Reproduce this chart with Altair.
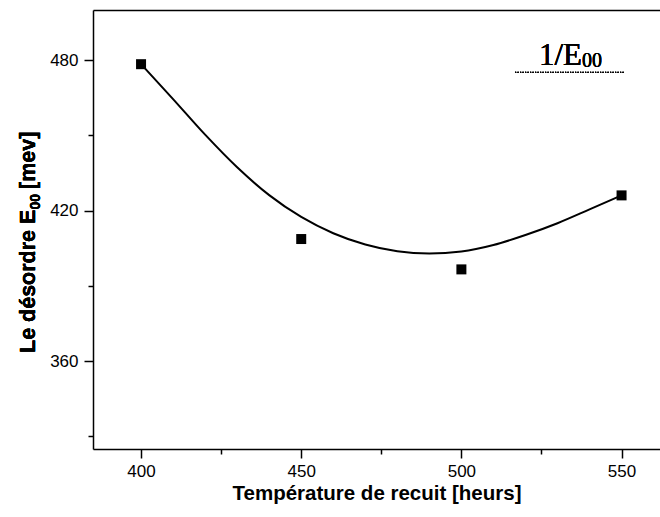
import altair as alt
import pandas as pd

# measured points
temps = [400, 450, 500, 550]
desordre = [478.4, 408.7, 396.6, 426.1]

# fitted curve
fit_x = [400, 410, 420, 430, 440, 450, 460, 470, 480, 490, 500, 510, 520, 530, 540, 550]
fit_y = [478.4, 464.5, 450.3, 437.3, 426.2, 417.5, 411.0, 406.5, 403.8, 402.9,
         403.7, 406.3, 410.3, 415.0, 420.5, 426.1]

x_major = [400, 450, 500, 550]
x_minor = [425, 475, 525]
y_major = [360, 420, 480]
y_minor = [330, 390, 450]

pts = pd.DataFrame({"t": temps, "e": desordre})
fit = pd.DataFrame({"t": fit_x, "e": fit_y})

xs = alt.Scale(domain=[385, 562], nice=False, zero=False)
ys = alt.Scale(domain=[325, 500], nice=False, zero=False)

SANS = "Liberation Sans"
SERIF = "Liberation Serif"

points = alt.Chart(pts).mark_square(size=100, color="black", opacity=1).encode(
    x=alt.X("t:Q", scale=xs, axis=alt.Axis(
        values=x_major, tickSize=9, labelPadding=5, format="d",
        title="Température de recuit [heurs]", titleFontSize=20.5,
        titleFont=SANS, titleFontWeight="bold", titlePadding=4,
        labelFontSize=17, labelFont=SANS, grid=False, orient="bottom")),
    y=alt.Y("e:Q", scale=ys, axis=alt.Axis(
        values=y_major, tickSize=9, labelPadding=6, format="d",
        title=None, labelFontSize=17, labelFont=SANS, grid=False, orient="left")),
)

curve = alt.Chart(fit).mark_line(color="black", strokeWidth=2, interpolate="monotone").encode(
    x=alt.X("t:Q", scale=xs, axis=alt.Axis(
        values=x_minor, tickSize=5, labels=False, domain=False, title=None,
        grid=False, orient="bottom")),
    y=alt.Y("e:Q", scale=ys, axis=alt.Axis(
        values=y_minor, tickSize=5, labels=False, domain=False, title=None,
        grid=False, orient="left")),
)

topframe = alt.Chart(pts).mark_point(opacity=0).encode(
    x=alt.X("t:Q", scale=xs, axis=alt.Axis(
        ticks=False, labels=False, domain=True, title=None, grid=False, orient="top")),
    y=alt.Y("e:Q", scale=ys, axis=None),
)

# legend: "1/E00" with dotted line
leg_main = alt.Chart(pts).mark_text(
    text="1/E", font=SERIF, fontSize=31, align="right", baseline="alphabetic", color="black"
).encode(x=alt.value(489), y=alt.value(55))
leg_sub = alt.Chart(pts).mark_text(
    text="00", font=SERIF, fontSize=20, align="left", baseline="alphabetic", color="black"
).encode(x=alt.value(489), y=alt.value(56.7))
leg_line = alt.Chart(pts).mark_rule(
    color="black", strokeWidth=1.2, strokeDash=[1.2, 1.3]
).encode(x=alt.value(422), x2=alt.value(532), y=alt.value(62.3))

# y-axis title with subscript
yt1 = alt.Chart(pts).mark_text(
    text="Le désordre E", font=SANS, fontSize=21.5, fontWeight="bold", angle=270,
    align="left", baseline="alphabetic", color="black"
).encode(x=alt.value(-58), y=alt.value(343))
yt2 = alt.Chart(pts).mark_text(
    text="00", font=SANS, fontSize=14, fontWeight="bold", angle=270,
    align="left", baseline="alphabetic", color="black"
).encode(x=alt.value(-53), y=alt.value(199.6))
yt3 = alt.Chart(pts).mark_text(
    text="[mev]", font=SANS, fontSize=21.5, fontWeight="bold", angle=270,
    align="left", baseline="alphabetic", color="black"
).encode(x=alt.value(-58), y=alt.value(179))

chart = alt.layer(
    points, curve, topframe, leg_main, leg_sub, leg_line, yt1, yt2, yt3
).resolve_axis(x="independent", y="independent").properties(
    width=567, height=439,
    autosize=alt.AutoSizeParams(type="none"),
    padding={"left": 93, "top": 10, "right": 0, "bottom": 68},
    background="white",
).configure_view(stroke=None).configure_axis(
    domainColor="black", tickColor="black", labelColor="black", titleColor="black",
    domainWidth=1.5, tickWidth=1.5,
)

chart.save("out.html", embed_options={"renderer": "svg", "actions": False})
